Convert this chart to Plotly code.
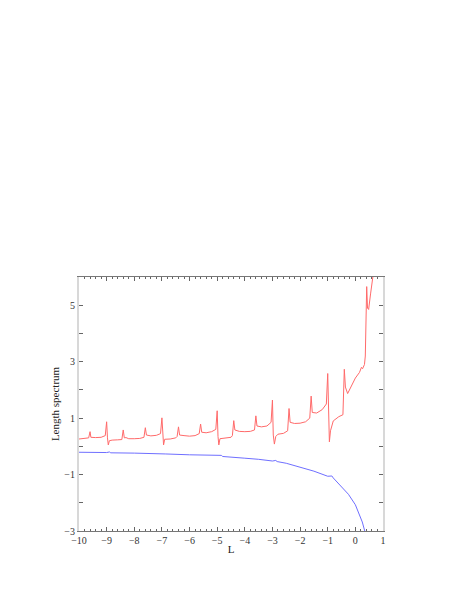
import plotly.graph_objects as go

# Red curve (upper branch of the length spectrum)
red_L = [-10.0, -9.8, -9.65, -9.6, -9.57, -9.4, -9.2, -9.05, -9.0, -8.97, -8.94, -8.9, -8.8, -8.6,
         -8.45, -8.4, -8.36, -8.3, -8.2, -8.0, -7.8, -7.65, -7.6, -7.56, -7.4, -7.2, -7.05, -7.0,
         -6.97, -6.94, -6.9, -6.7, -6.5, -6.45, -6.4, -6.36, -6.2, -6.0, -5.8, -5.65, -5.6, -5.56,
         -5.4, -5.2, -5.05, -5.0, -4.97, -4.94, -4.9, -4.7, -4.5, -4.45, -4.4, -4.36, -4.2, -4.0,
         -3.8, -3.65, -3.6, -3.56, -3.4, -3.2, -3.05, -3.0, -2.97, -2.93, -2.88, -2.8, -2.6, -2.45,
         -2.4, -2.36, -2.2, -2.0, -1.8, -1.65, -1.6, -1.56, -1.4, -1.2, -1.05, -1.0, -0.97, -0.94,
         -0.9, -0.8, -0.6, -0.45, -0.4, -0.36, -0.28, -0.2, -0.1, 0.0, 0.15, 0.22, 0.26, 0.33,
         0.36, 0.38, 0.41, 0.44, 0.48, 0.55, 0.62, 0.66]
red_S = [0.26, 0.28, 0.30, 0.52, 0.32, 0.31, 0.32, 0.38, 0.87, 0.30, 0.05, 0.20, 0.22, 0.23,
         0.24, 0.58, 0.30, 0.31, 0.27, 0.27, 0.28, 0.32, 0.66, 0.40, 0.37, 0.39, 0.45, 1.01,
         0.30, 0.05, 0.25, 0.26, 0.30, 0.35, 0.69, 0.40, 0.38, 0.36, 0.38, 0.45, 0.79, 0.50,
         0.48, 0.52, 0.60, 1.26, 0.35, 0.05, 0.27, 0.30, 0.32, 0.38, 0.91, 0.58, 0.53, 0.52,
         0.53, 0.58, 1.08, 0.72, 0.69, 0.72, 0.85, 1.64, 0.40, 0.08, 0.35, 0.43, 0.46, 0.55,
         1.34, 0.85, 0.81, 0.82, 0.87, 1.00, 1.78, 1.20, 1.18, 1.30, 1.50, 2.58, 0.80, 0.16,
         0.55, 0.90, 1.05, 1.12, 2.73, 2.10, 1.87, 2.02, 2.22, 2.42, 2.62, 2.80, 2.75, 2.90,
         3.20, 4.00, 5.66, 4.90, 4.85, 5.40, 6.00, 6.20]

# Blue curve (lower branch)
blue_L = [-10.0, -9.5, -9.0, -8.9, -8.85, -8.0, -7.0, -6.93, -6.88, -6.0, -5.0, -4.85, -4.8,
          -4.5, -4.0, -3.5, -3.0, -2.88, -2.83, -2.5, -2.0, -1.5, -1.0, -0.85, -0.8, -0.5,
          -0.25, 0.0, 0.15, 0.25, 0.34]
blue_S = [-0.21, -0.22, -0.22, -0.20, -0.23, -0.24, -0.26, -0.245, -0.27, -0.30, -0.34,
          -0.32, -0.36, -0.39, -0.42, -0.46, -0.52, -0.50, -0.54, -0.60, -0.74, -0.88, -1.06,
          -1.05, -1.12, -1.42, -1.70, -2.07, -2.40, -2.68, -3.00]

ytick_vals = [-3, -2, -1, 0, 1, 2, 3, 4, 5, 6]
ytick_text = ["\u22123", "", "\u22121", "", "1", "", "3", "", "5", ""]
xtick_vals = list(range(-10, 2))
xtick_text = [("\u2212" + str(-v)) if v < 0 else str(v) for v in xtick_vals]

fig = go.Figure()
fig.add_trace(go.Scatter(x=red_L, y=red_S, mode="lines",
                         line=dict(color="#ff6a6a", width=1), showlegend=False))
fig.add_trace(go.Scatter(x=blue_L, y=blue_S, mode="lines",
                         line=dict(color="#6f6fff", width=1), showlegend=False))

# a página tem margem de 8px no body, então compensamos aqui
fig.update_layout(
    width=463, height=599,
    paper_bgcolor="white", plot_bgcolor="white",
    margin=dict(l=71, r=88, t=269, b=76),
    font=dict(family="Liberation Serif, Times New Roman, serif", size=10, color="#333"),
    showlegend=False,
)

fig.update_xaxes(
    range=[-10, 1], tickvals=xtick_vals, ticktext=xtick_text,
    ticks="inside", ticklen=4, tickcolor="#666", tickwidth=1,
    minor=dict(dtick=0.2, tick0=0, ticks="inside", ticklen=2, tickcolor="#666"),
    showline=True, linecolor="#777", linewidth=1, mirror="allticks",
    showgrid=False, zeroline=False,
    title=dict(text="L", font=dict(size=11, color="#222"), standoff=0),
)
fig.update_yaxes(
    range=[-3, 6], tickvals=ytick_vals, ticktext=ytick_text,
    ticks="inside", ticklen=4, tickcolor="#666", tickwidth=1,
    showline=True, linecolor="#d8d8d8", linewidth=2, mirror="allticks",
    showgrid=False, zeroline=False,
    title=dict(text="Length spectrum", font=dict(size=11, color="#222"), standoff=3),
)

fig.write_html("out.html")
